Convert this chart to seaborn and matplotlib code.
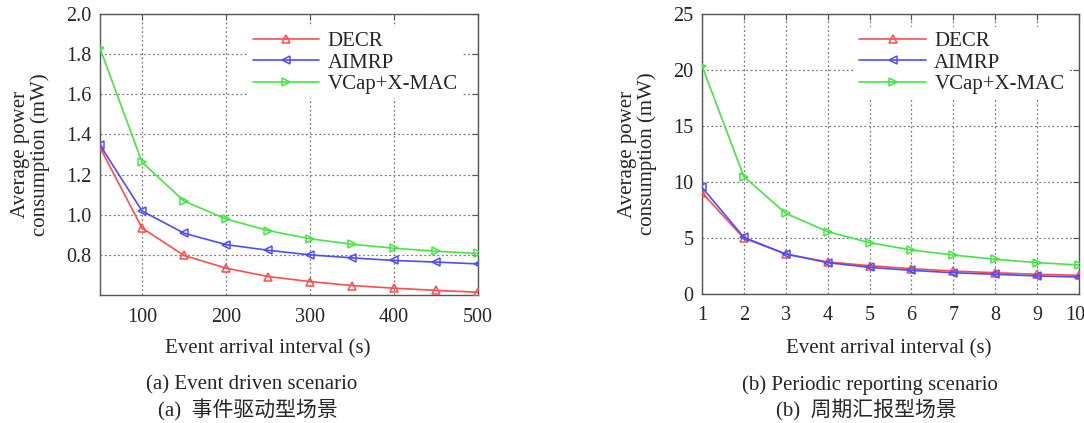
import numpy as np
import pandas as pd
import matplotlib
matplotlib.use("Agg")
import matplotlib.pyplot as plt
import seaborn as sns

# ---- data ----
series_names = ["DECR", "AIMRP", "VCap+X-MAC"]

x_event = [50, 100, 150, 200, 250, 300, 350, 400, 450, 500]
decr_event = [1.335, 0.934, 0.797, 0.734, 0.692, 0.667, 0.647, 0.634, 0.623, 0.614]
aimrp_event = [1.347, 1.019, 0.908, 0.851, 0.823, 0.800, 0.785, 0.772, 0.764, 0.755]
vcap_event = [1.829, 1.262, 1.068, 0.979, 0.921, 0.880, 0.853, 0.833, 0.818, 0.807]

x_period = [1, 2, 3, 4, 5, 6, 7, 8, 9, 10]
decr_period = [9.05, 4.97, 3.57, 2.86, 2.53, 2.26, 2.05, 1.90, 1.76, 1.67]
aimrp_period = [9.52, 5.06, 3.57, 2.80, 2.38, 2.11, 1.90, 1.76, 1.61, 1.52]
vcap_period = [20.36, 10.48, 7.20, 5.57, 4.58, 3.93, 3.48, 3.10, 2.80, 2.59]

xticks_event = [100, 200, 300, 400, 500]
yticks_event = [0.8, 1.0, 1.2, 1.4, 1.6, 1.8, 2.0]
xticks_period = [1, 2, 3, 4, 5, 6, 7, 8, 9, 10]
yticks_period = [0, 5, 10, 15, 20, 25]

xlabel = "Event arrival interval (s)"
ylabel = "Average power\nconsumption (mW)"
captions_a = ["(a) Event driven scenario", "(a)  事件驱动型场景"]
captions_b = ["(b) Periodic reporting scenario", "(b)  周期汇报型场景"]


def long_df(x, a, b, c):
    return pd.DataFrame({
        "x": list(x) * 3,
        "y": list(a) + list(b) + list(c),
        "series": [series_names[0]] * len(x) + [series_names[1]] * len(x) + [series_names[2]] * len(x),
    })


df_event = long_df(x_event, decr_event, aimrp_event, vcap_event)
df_period = long_df(x_period, decr_period, aimrp_period, vcap_period)

# ---- style ----
sns.set_style("white")
serif = ["Liberation Serif", "Noto Sans CJK SC", "DejaVu Sans"]
plt.rcParams["font.family"] = serif

palette = {"DECR": "#ff4d4d", "AIMRP": "#4d4dff", "VCap+X-MAC": "#44e644"}
markers = {"DECR": "^", "AIMRP": "<", "VCap+X-MAC": ">"}

fig = plt.figure(figsize=(10.84, 4.23), dpi=100)
ax1 = fig.add_axes([100 / 1084, 1 - 295 / 423, (478 - 100) / 1084, (295 - 14) / 423])
ax2 = fig.add_axes([702 / 1084, 1 - 294 / 423, (1079 - 702) / 1084, (294 - 14) / 423])

tick_fs = 14.5


def fix_markers(lines):
    for ln in lines:
        c = ln.get_color()
        ln.set_markeredgecolor(c)
        ln.set_markerfacecolor("none")
        ln.set_markeredgewidth(1.1)


def draw(ax, df, xlim, ylim, xt, yt, leg_anchor):
    sns.lineplot(data=df, x="x", y="y", hue="series", style="series",
                 palette=palette, markers=markers, dashes=False,
                 markersize=5.5, linewidth=1.2, ax=ax, legend=True, zorder=3)
    fix_markers(ax.lines)
    ax.set_xlim(*xlim)
    ax.set_ylim(*ylim)
    ax.set_xticks(xt)
    ax.set_yticks(yt)
    ax.grid(True, color="#7a7a7a", linestyle=(0, (1.5, 2.0)), linewidth=0.9)
    ax.tick_params(direction="in", length=4, width=0.8, labelsize=tick_fs,
                   top=True, right=True, color="#555555")
    ax.tick_params(axis="x", pad=9)
    ax.tick_params(axis="y", pad=6)
    for s in ax.spines.values():
        s.set_color("#555555")
        s.set_linewidth(1.0)
    ax.set_xlabel("")
    ax.set_ylabel(ylabel, fontsize=15, linespacing=1.0, labelpad=12)
    leg = ax.legend(loc="upper right", bbox_to_anchor=leg_anchor, fontsize=15,
                    frameon=True, facecolor="white", edgecolor="none", framealpha=1.0,
                    handlelength=3.2, handletextpad=0.4, labelspacing=0.1,
                    borderpad=0.2, fancybox=False)
    fix_markers(leg.legend_handles)
    leg.set_zorder(5)


draw(ax1, df_event, (50, 500), (0.6, 2.0), xticks_event, yticks_event, (0.985, 0.99))
draw(ax2, df_period, (1, 10), (0, 25), xticks_period, yticks_period, (1.0, 0.99))
ax1.set_yticklabels([f"{v:.1f}" for v in yticks_event])

# keep the last tick label of the right panel inside the figure
ax2.set_xticklabels([str(v) for v in xticks_period])
last = ax2.get_xticklabels()[-1]
last.set_horizontalalignment("right")
last.set_x(last.get_position()[0])
from matplotlib.transforms import ScaledTranslation
last.set_transform(last.get_transform() + ScaledTranslation(6 / 100, 0, fig.dpi_scale_trans))

# x labels and captions
cap_fs = 15
fig.text(268 / 1084, 1 - 349 / 423, xlabel, ha="center", va="center", fontsize=cap_fs)
fig.text(889 / 1084, 1 - 349 / 423, xlabel, ha="center", va="center", fontsize=cap_fs)
fig.text(252 / 1084, 1 - 385 / 423, captions_a[0], ha="center", va="center", fontsize=cap_fs)
fig.text(248 / 1084, 1 - 410 / 423, captions_a[1], ha="center", va="center", fontsize=cap_fs)
fig.text(870 / 1084, 1 - 385 / 423, captions_b[0], ha="center", va="center", fontsize=cap_fs)
fig.text(866 / 1084, 1 - 410 / 423, captions_b[1], ha="center", va="center", fontsize=cap_fs)

fig.savefig("out.png", dpi=100, facecolor="white")
